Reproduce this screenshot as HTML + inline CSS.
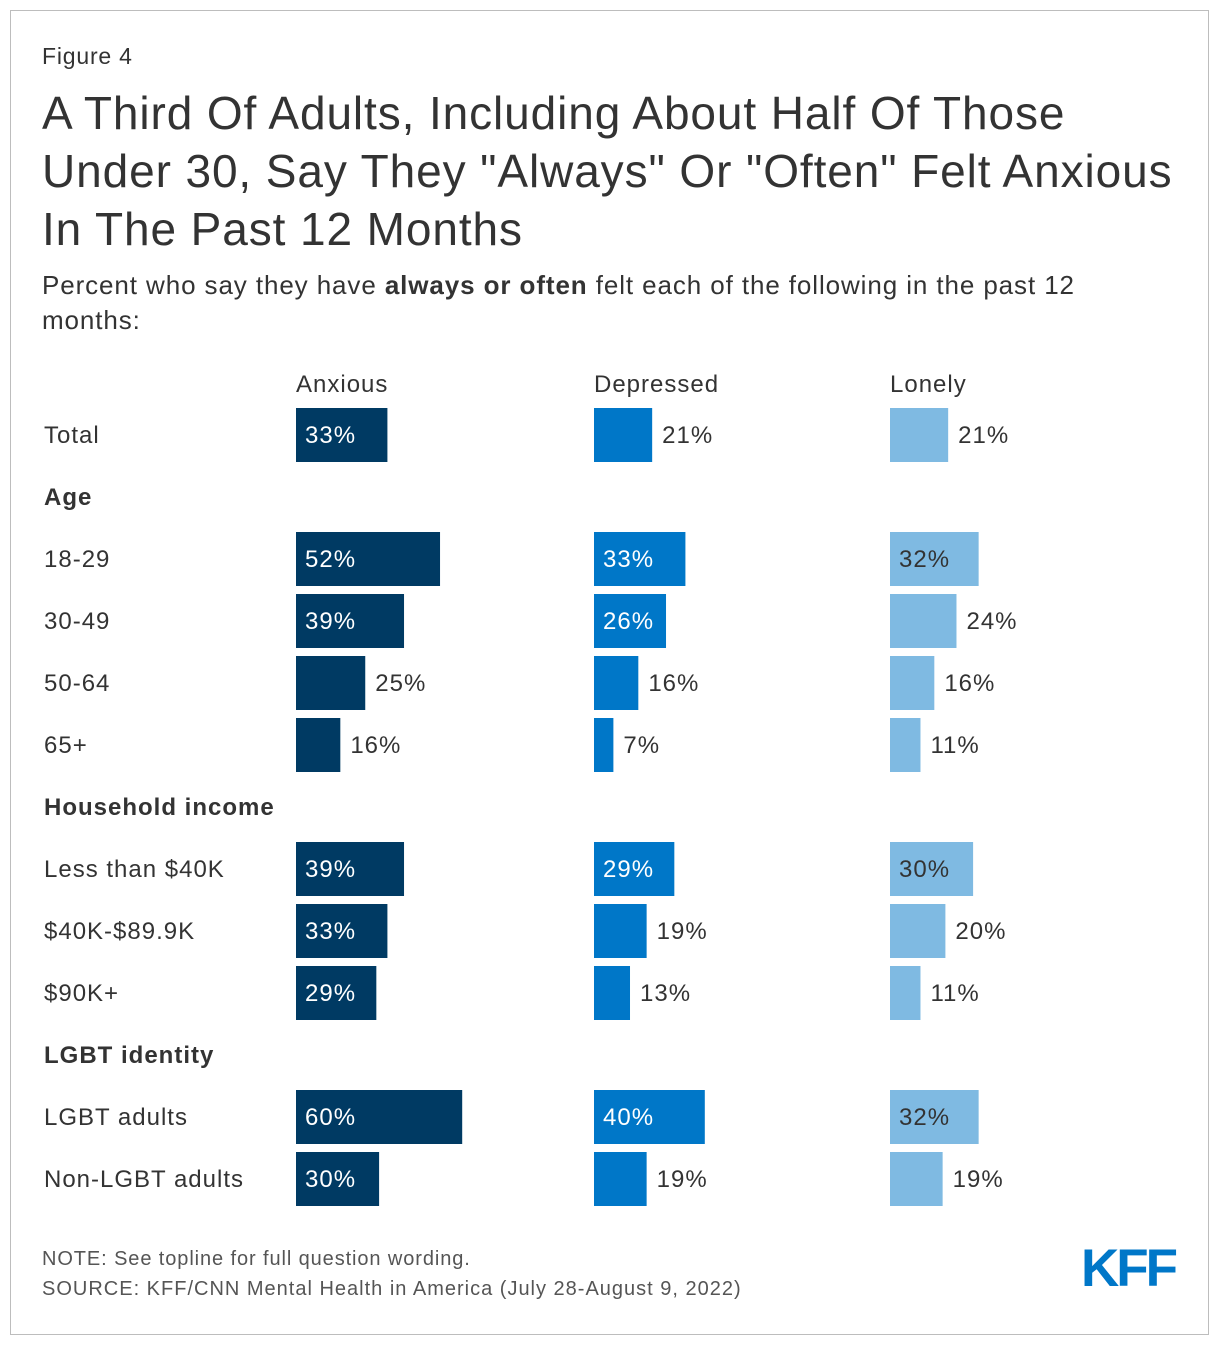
<!DOCTYPE html>
<html><head><meta charset="utf-8"><style>
body{margin:0;background:#fff;font-family:"Liberation Sans",Arial,sans-serif;color:#333}
#frame{position:absolute;left:10px;top:10px;width:1197px;height:1323px;border:1px solid #bdbdbd}
.t{position:absolute;white-space:nowrap}
</style></head><body>
<div id="frame"></div>
<div class="t" style="left:42px;top:43px;font-size:23px;letter-spacing:0.8px">Figure 4</div>
<div class="t" style="left:42px;top:84px;font-size:46px;letter-spacing:0.9px;line-height:58px;color:#333">A Third Of Adults, Including About Half Of Those<br>Under 30, Say They "Always" Or "Often" Felt Anxious<br>In The Past 12 Months</div>
<div class="t" style="left:42px;top:268px;font-size:26px;letter-spacing:0.9px;line-height:35px">Percent who say they have <b>always or often</b> felt each of the following in the past 12<br>months:</div>
<svg id="chart" width="1220" height="1230" style="position:absolute;left:0;top:0"></svg>
<div class="t" style="left:42px;top:1248px;font-size:20px;letter-spacing:0.9px;color:#555">NOTE: See topline for full question wording.</div>
<div class="t" style="left:42px;top:1278px;font-size:20px;letter-spacing:1px;color:#555">SOURCE: KFF/CNN Mental Health in America (July 28-August 9, 2022)</div>
<div class="t" style="left:1081px;top:1238px;font-size:53px;font-weight:bold;color:#0077c8;letter-spacing:-3px">KFF</div>
<script>
const series = ["Anxious","Depressed","Lonely"];
const rowLabels = ["Total","Age","18-29","30-49","50-64","65+","Household income","Less than $40K","$40K-$89.9K","$90K+","LGBT identity","LGBT adults","Non-LGBT adults"];
const isHeader = [false,true,false,false,false,false,true,false,false,false,true,false,false];
const anxious = [33,null,52,39,25,16,null,39,33,29,null,60,30];
const depressed = [21,null,33,26,16,7,null,29,19,13,null,40,19];
const lonely = [21,null,32,24,16,11,null,30,20,11,null,32,19];
const values = [anxious, depressed, lonely];
const colors = ["#003a63","#0077c8","#7fbae2"];
const textIn = ["#fff","#fff","#333"];
const colX = [296,594,890];
const pxPer = 2.77;
const x = (v)=> v*pxPer;
const rowY = (i)=> 408 + i*62;
const svg = document.getElementById('chart');
const NS="http://www.w3.org/2000/svg";
function txt(xx,yy,s,opts){const t=document.createElementNS(NS,'text');t.setAttribute('x',xx);t.setAttribute('y',yy);t.setAttribute('font-size',opts.size||24);t.setAttribute('letter-spacing','1');t.setAttribute('fill',opts.fill||'#333');if(opts.bold)t.setAttribute('font-weight','bold');t.setAttribute('font-family','Liberation Sans, Arial, sans-serif');t.textContent=s;svg.appendChild(t);return t;}
series.forEach((s,c)=>{const t=txt(colX[c],392,s,{});

});
rowLabels.forEach((lab,i)=>{
  const y=rowY(i);
  const t=txt(44,y+35,lab,{bold:isHeader[i]});
  
  
  if(isHeader[i])return;
  values.forEach((arr,c)=>{
    const v=arr[i];const w=x(v);
    const r=document.createElementNS(NS,'rect');
    r.setAttribute('x',colX[c]);r.setAttribute('y',y);r.setAttribute('width',w);r.setAttribute('height',54);r.setAttribute('fill',colors[c]);
    
    
    svg.appendChild(r);
    const inside=v>=26;
    const l=txt(inside?colX[c]+9:colX[c]+w+10,y+35,v+'%',{fill:inside?textIn[c]:'#333'});
    
    
  });
});
</script>
</body></html>
